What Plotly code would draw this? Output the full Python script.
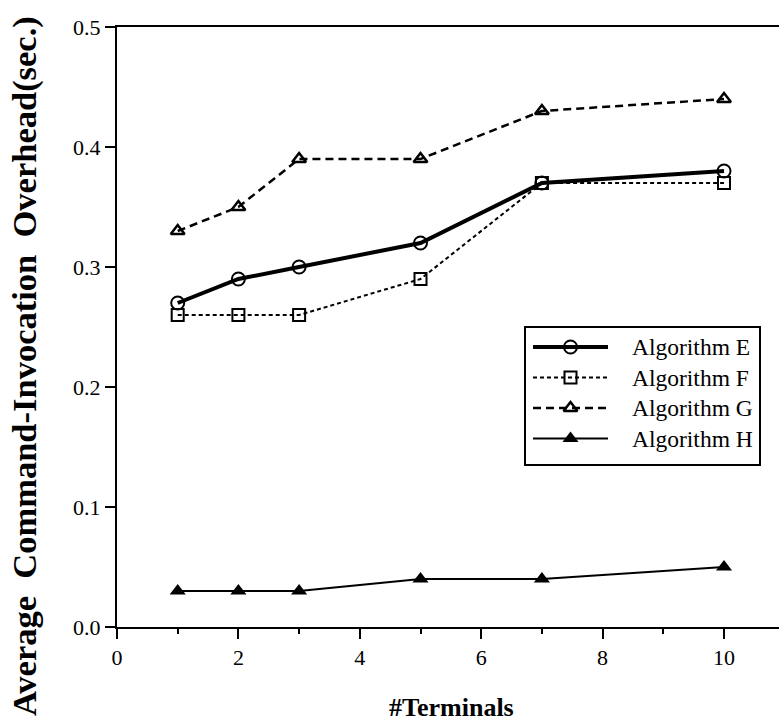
import plotly.graph_objects as go

# Number of terminals
terminals = [1, 2, 3, 5, 7, 10]

# Average command-invocation overhead (sec.) per algorithm
algo_e = [0.27, 0.29, 0.30, 0.32, 0.37, 0.38]
algo_f = [0.26, 0.26, 0.26, 0.29, 0.37, 0.37]
algo_g = [0.33, 0.35, 0.39, 0.39, 0.43, 0.44]
algo_h = [0.03, 0.03, 0.03, 0.04, 0.04, 0.05]

series_names = ["Algorithm E", "Algorithm F", "Algorithm G", "Algorithm H"]

x_ticks = [0, 2, 4, 6, 8, 10]
y_ticks = [0.0, 0.1, 0.2, 0.3, 0.4, 0.5]

SERIF = "Liberation Serif, Times New Roman, serif"
W, H = 779, 722
ML, MR, MT, MB = 117, 0, 27, 95

styles = [
    (algo_e, dict(color="black", width=4, dash="solid"),
     dict(symbol="circle-open", size=13, color="black", line=dict(width=2))),
    (algo_f, dict(color="black", width=2, dash="4px,3px"),
     dict(symbol="square-open", size=12, color="black", line=dict(width=2))),
    (algo_g, dict(color="black", width=2.5, dash="8px,5px"),
     dict(symbol="triangle-up-open", size=12, color="black", line=dict(width=2.5))),
    (algo_h, dict(color="black", width=2, dash="solid"),
     dict(symbol="triangle-up", size=14, color="black", line=dict(width=0))),
]

fig = go.Figure()

# data series on the main axes
for name, (vals, line, marker) in zip(series_names, styles):
    fig.add_trace(go.Scatter(
        x=terminals, y=vals, name=name, mode="lines+markers",
        line=line, marker=marker, showlegend=False,
    ))

# legend box drawn on an overlay axis measured in pixels of the page
box_l, box_r, box_t, box_b = 525, 760, 327, 465
row_y = [347, 377.5, 408, 438.5]
sym_l, sym_r, text_x = 533, 608, 630

fig.add_shape(type="rect", xref="x2", yref="y2",
              x0=box_l, x1=box_r, y0=box_t, y1=box_b,
              line=dict(color="black", width=2), fillcolor="white",
              layer="below")

for name, (vals, line, marker), yy in zip(series_names, styles, row_y):
    fig.add_trace(go.Scatter(
        x=[sym_l, sym_r], y=[yy, yy], xaxis="x2", yaxis="y2",
        mode="lines", line=line, showlegend=False, hoverinfo="skip",
    ))
    fig.add_trace(go.Scatter(
        x=[(sym_l + sym_r) / 2], y=[yy], xaxis="x2", yaxis="y2",
        mode="markers", marker=marker, showlegend=False, hoverinfo="skip",
    ))
    fig.add_annotation(
        text=name, xref="x2", yref="y2", x=text_x, y=yy,
        xanchor="left", yanchor="middle", showarrow=False,
        font=dict(family=SERIF, size=23.5, color="black"),
    )

plot_w = W - ML - MR
plot_h = H - MT - MB
x_max = plot_w / 60.7

fig.update_layout(
    width=W, height=H,
    margin=dict(l=ML, r=MR, t=MT, b=MB),
    paper_bgcolor="white", plot_bgcolor="white",
    font=dict(family=SERIF, size=22, color="black"),
    showlegend=False,
    xaxis=dict(
        range=[0, x_max], tickmode="array", tickvals=x_ticks,
        ticktext=[str(v) for v in x_ticks],
        showline=True, linecolor="black", linewidth=2, mirror=True,
        ticks="outside", ticklen=10, tickwidth=2, tickcolor="black",
        minor=dict(tickvals=[1, 3, 5, 7, 9], ticks="outside", ticklen=5,
                   tickwidth=2, tickcolor="black", showgrid=False),
        showgrid=False, zeroline=False,
        tickfont=dict(family=SERIF, size=22, color="black"),
    ),
    yaxis=dict(
        range=[0, 0.5], tickmode="array", tickvals=y_ticks,
        ticktext=[f"{v:.1f}" for v in y_ticks],
        showline=True, linecolor="black", linewidth=2,
        ticks="outside", ticklen=10, tickwidth=2, tickcolor="black",
        showgrid=False, zeroline=False,
        tickfont=dict(family=SERIF, size=22, color="black"),
    ),
    xaxis2=dict(overlaying="x", range=[ML, W - MR], visible=False,
                fixedrange=True),
    yaxis2=dict(overlaying="y", range=[H - MB, MT], visible=False,
                fixedrange=True),
)

NB = "\u00a0"
fig.add_annotation(
    text=f"<b>Average{NB}{NB}Command-Invocation{NB}{NB}Overhead(sec.)</b>",
    xref="paper", yref="paper",
    x=(25 - ML) / plot_w, y=(H - MB - 366) / plot_h,
    xanchor="center", yanchor="middle", textangle=-90, showarrow=False,
    font=dict(family=SERIF, size=34.5, color="black"),
)
fig.add_annotation(
    text="<b>#Terminals</b>",
    xref="paper", yref="paper",
    x=(451 - ML) / plot_w, y=(H - MB - 707) / plot_h,
    xanchor="center", yanchor="middle", showarrow=False,
    font=dict(family=SERIF, size=26, color="black"),
)

fig.write_html("out.html")
